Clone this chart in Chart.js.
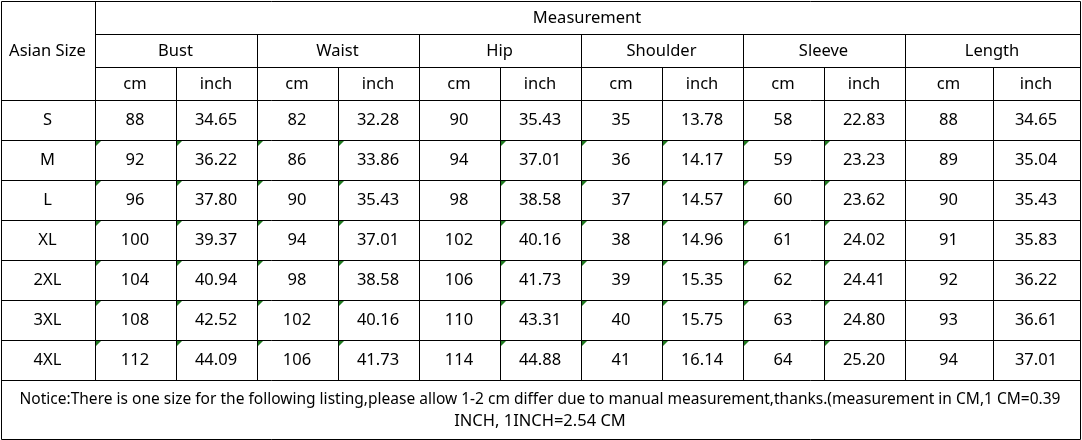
<!DOCTYPE html>
<html>
<head>
<meta charset="utf-8">
<title>Size chart</title>
<script src="https://cdn.jsdelivr.net/npm/chart.js@4.4.1/dist/chart.umd.min.js"></script>
<style>
  html, body { margin: 0; padding: 0; background: #fff; overflow: hidden; }
  #wrap { width: 1082px; height: 440px; position: relative; }
</style>
</head>
<body>
<div id="wrap"><canvas id="sizeChart"></canvas></div>
<script>
// ---- data ----
const title = "Measurement";
const sizeHeader = "Asian Size";
const sizes = ["S", "M", "L", "XL", "2XL", "3XL", "4XL"];
const parts = ["Bust", "Waist", "Hip", "Shoulder", "Sleeve", "Length"];
const units = ["cm", "inch"];

const bustCm = [88, 92, 96, 100, 104, 108, 112];
const bustInch = [34.65, 36.22, 37.80, 39.37, 40.94, 42.52, 44.09];
const waistCm = [82, 86, 90, 94, 98, 102, 106];
const waistInch = [32.28, 33.86, 35.43, 37.01, 38.58, 40.16, 41.73];
const hipCm = [90, 94, 98, 102, 106, 110, 114];
const hipInch = [35.43, 37.01, 38.58, 40.16, 41.73, 43.31, 44.88];
const shoulderCm = [35, 36, 37, 38, 39, 40, 41];
const shoulderInch = [13.78, 14.17, 14.57, 14.96, 15.35, 15.75, 16.14];
const sleeveCm = [58, 59, 60, 61, 62, 63, 64];
const sleeveInch = [22.83, 23.23, 23.62, 24.02, 24.41, 24.80, 25.20];
const lengthCm = [88, 89, 90, 91, 92, 93, 94];
const lengthInch = [34.65, 35.04, 35.43, 35.83, 36.22, 36.61, 37.01];

const notice = [
    "Notice:There is one size for the following listing,please allow 1-2 cm differ due to manual measurement,thanks.(measurement in CM,1 CM=0.39",
    "INCH, 1INCH=2.54 CM"
];

// ---- layout (grid edges in scale units) ----
const colEdges = [0.5, 94.5, 175.5, 256.5, 337.5, 418.5, 499.5, 580.5, 661.5, 742.5, 823.5, 904.5, 992.5, 1079.5];
const rowEdges = [0.5, 33.5, 66.5, 99.5, 139.5, 179.5, 219.5, 259.5, 299.5, 339.5, 379.5, 438.5];
const noticeLines = [398, 420];
// value columns that carry the little green corner mark (rows M..4XL)
const markedCols = [1, 2, 3, 4, 6, 7, 8, 9, 10];

const FONT = '16.5px "Noto Sans", "Open Sans", sans-serif';
const mid = (a, b) => (a + b) / 2;

const series = [
    [bustCm, bustInch], [waistCm, waistInch], [hipCm, hipInch],
    [shoulderCm, shoulderInch], [sleeveCm, sleeveInch], [lengthCm, lengthInch]
];
const fmt = (v, unit) => unit === "inch" ? v.toFixed(2) : String(v);

// build every text cell as a point
let cells = [];
cells.push({ x: mid(colEdges[0], colEdges[1]), y: mid(rowEdges[0], rowEdges[3]), t: sizeHeader });
cells.push({ x: mid(colEdges[1], colEdges[13]), y: mid(rowEdges[0], rowEdges[1]), t: title });
parts.forEach((p, i) => {
    cells.push({ x: mid(colEdges[1 + i * 2], colEdges[3 + i * 2]), y: mid(rowEdges[1], rowEdges[2]), t: p });
    units.forEach((u, j) => {
        let c = 1 + i * 2 + j;
        cells.push({ x: mid(colEdges[c], colEdges[c + 1]), y: mid(rowEdges[2], rowEdges[3]), t: u });
        series[i][j].forEach((v, r) => {
            cells.push({ x: mid(colEdges[c], colEdges[c + 1]), y: mid(rowEdges[3 + r], rowEdges[4 + r]), t: fmt(v, u) });
        });
    });
});
sizes.forEach((s, r) => {
    cells.push({ x: mid(colEdges[0], colEdges[1]), y: mid(rowEdges[3 + r], rowEdges[4 + r]), t: s });
});
let noticeCells = notice.map((n, i) => ({ x: mid(colEdges[0], colEdges[13]), y: noticeLines[i], t: n }));

// grid + text plugin
const tablePlugin = {
    id: "tablePlugin",
    afterDatasetsDraw(chart) {
        let ctx = chart.ctx;
        let xs = chart.scales.x, ys = chart.scales.y;
        let X = v => Math.round(xs.getPixelForValue(v)) + 0.5;
        let Y = v => Math.round(ys.getPixelForValue(v)) + 0.5;
        ctx.save();
        ctx.strokeStyle = "#000";
        ctx.lineWidth = 1;
        let line = (x1, y1, x2, y2) => {
            ctx.beginPath();
            ctx.moveTo(X(x1), Y(y1));
            ctx.lineTo(X(x2), Y(y2));
            ctx.stroke();
        };
        let L = colEdges[0], R = colEdges[13];
        // horizontal lines
        line(L, rowEdges[0], R, rowEdges[0]);
        line(colEdges[1], rowEdges[1], R, rowEdges[1]);
        line(colEdges[1], rowEdges[2], R, rowEdges[2]);
        for (let r = 3; r < rowEdges.length; r++) line(L, rowEdges[r], R, rowEdges[r]);
        // vertical lines
        line(L, rowEdges[0], L, rowEdges[11]);
        line(R, rowEdges[0], R, rowEdges[11]);
        line(colEdges[1], rowEdges[0], colEdges[1], rowEdges[10]);
        for (let c = 2; c < 13; c++) {
            let top = (c % 2 === 1) ? rowEdges[1] : rowEdges[2];
            line(colEdges[c], top, colEdges[c], rowEdges[10]);
        }
        // green corner marks
        ctx.fillStyle = "#1f7a1f";
        markedCols.forEach(c => {
            for (let r = 4; r < 10; r++) {
                let x = X(colEdges[c]) + 0.5, y = Y(rowEdges[r]) + 0.5;
                ctx.beginPath();
                ctx.moveTo(x, y);
                ctx.lineTo(x + 5, y);
                ctx.lineTo(x, y + 5);
                ctx.closePath();
                ctx.fill();
            }
        });
        // texts at the point positions
        ctx.fillStyle = "#000";
        ctx.font = FONT;
        ctx.textAlign = "center";
        ctx.textBaseline = "middle";
        chart.data.datasets.forEach((ds, di) => {
            let meta = chart.getDatasetMeta(di);
            meta.data.forEach((pt, i) => {
                let maxW = ds.fitWidth ? xs.getPixelForValue(R) - xs.getPixelForValue(L) - 38 : undefined;
                if (maxW) ctx.fillText(ds.data[i].t, pt.x, pt.y + 1, maxW);
                else ctx.fillText(ds.data[i].t, pt.x, pt.y + 1);
            });
        });
        ctx.restore();
    }
};

new Chart(document.getElementById("sizeChart"), {
    type: "scatter",
    data: {
        datasets: [
            { label: "cells", data: cells, pointRadius: 0, pointHoverRadius: 0 },
            { label: "notice", data: noticeCells, pointRadius: 0, pointHoverRadius: 0, fitWidth: true }
        ]
    },
    options: {
        responsive: true,
        maintainAspectRatio: false,
        animation: false,
        events: [],
        layout: { padding: 0 },
        plugins: { legend: { display: false }, tooltip: { enabled: false } },
        scales: {
            x: { type: "linear", min: 0, max: 1082, display: false },
            y: { type: "linear", min: 0, max: 440, reverse: true, display: false }
        }
    },
    plugins: [tablePlugin]
});
</script>
</body>
</html>
